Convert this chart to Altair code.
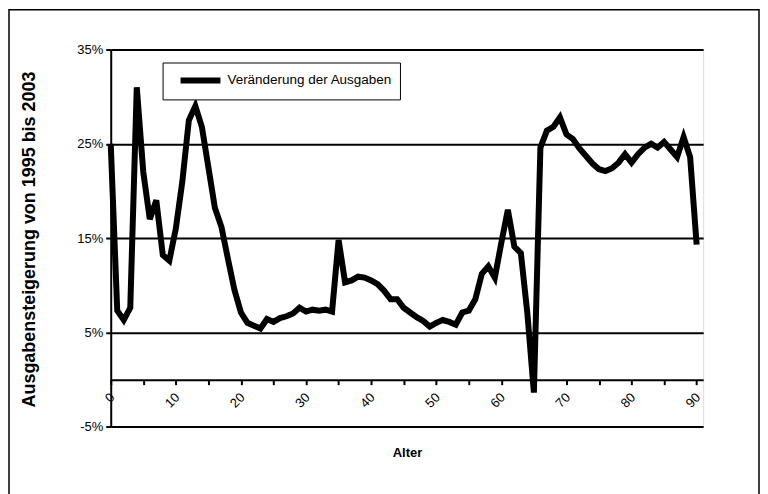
import altair as alt
import pandas as pd

ages = list(range(0, 91))
values = [
    25.0, 7.3, 6.3, 7.6, 31.0, 22.0, 17.0, 19.0, 13.2, 12.6,
    16.0, 21.0, 27.5, 29.0, 26.8, 22.5, 18.2, 16.2, 12.8, 9.5,
    7.1, 6.0, 5.7, 5.4, 6.4, 6.1, 6.5, 6.7, 7.0, 7.6,
    7.2, 7.4, 7.3, 7.4, 7.2, 14.8, 10.3, 10.5, 10.9, 10.8,
    10.5, 10.1, 9.4, 8.5, 8.5, 7.6, 7.1, 6.6, 6.2, 5.6,
    6.0, 6.3, 6.1, 5.8, 7.1, 7.3, 8.5, 11.2, 12.0, 10.8,
    14.5, 18.0, 14.1, 13.4, 7.0, -1.4, 24.6, 26.4, 26.8, 27.8,
    26.0, 25.5, 24.5, 23.7, 22.9, 22.3, 22.1, 22.4, 23.0, 23.9,
    23.0, 23.9, 24.6, 25.0, 24.6, 25.2, 24.4, 23.6, 25.7, 23.6,
    14.3,
]
series = ["Veränderung der Ausgaben"] * len(ages)

y_ticks = [-5, 5, 15, 25, 35]
x_ticks = list(range(0, 91, 5))

df = pd.DataFrame({"Alter": ages, "Wert": values, "Serie": series})

FONT = "Liberation Sans, Arial, sans-serif"

line = alt.Chart(df).mark_line(strokeWidth=6, strokeJoin="miter", strokeCap="butt").encode(
    x=alt.X(
        "Alter:Q",
        scale=alt.Scale(domain=[0, 91], nice=False, zero=False),
        axis=alt.Axis(
            values=x_ticks,
            labelExpr="datum.value % 10 == 0 ? datum.label : ''",
            labelAngle=315,
            offset=-47,
            title="Alter",
            titleFont=FONT,
            titleFontWeight="bold",
            titleFontSize=13,
            titleColor="black",
            titleX=297,
            titleY=73,
            titleBaseline="middle",
            grid=False,
            domainColor="black",
            domainWidth=2,
            tickColor="black",
            tickSize=5,
            tickWidth=2,
            labelFont=FONT,
            labelFontSize=13,
            labelColor="black",
            labelPadding=6,
            labelOffset=-3,
        ),
    ),
    y=alt.Y(
        "Wert:Q",
        scale=alt.Scale(domain=[-5, 35], nice=False, zero=False),
        axis=alt.Axis(
            values=y_ticks,
            labelExpr="datum.value + '%'",
            title="Ausgabensteigerung von 1995 bis 2003",
            titleFont=FONT,
            titleFontWeight="bold",
            titleFontSize=18,
            titleColor="black",
            titleX=-81,
            titleY=190,
            titleAngle=270,
            titleAlign="center",
            titleBaseline="middle",
            grid=True,
            gridColor="black",
            gridWidth=2,
            gridOpacity=1,
            domainColor="black",
            domainWidth=2,
            tickColor="black",
            tickSize=5,
            tickWidth=2,
            labelFont=FONT,
            labelFontSize=13,
            labelColor="black",
            labelPadding=3,
        ),
    ),
    color=alt.Color(
        "Serie:N",
        scale=alt.Scale(range=["black"]),
        legend=alt.Legend(
            title=None,
            orient="none",
            legendX=52,
            legendY=13,
            strokeColor="black",
            fillColor="white",
            padding=7,
            symbolType="M0,0H5",
            symbolSize=256,
            symbolStrokeWidth=6,
            labelOffset=36,
            labelLimit=400,
            labelFont=FONT,
            labelFontSize=13.5,
            labelColor="black",
        ),
    ),
)

frame = alt.Chart(pd.DataFrame({"f": [0]})).mark_rect(
    fill=None, stroke="black", strokeWidth=1.5
).encode(
    x=alt.value(-102), x2=alt.value(650), y=alt.value(-40), y2=alt.value(470)
)

chart = alt.layer(frame, line).properties(
    width=594,
    height=378,
    autosize=alt.AutoSizeParams(type="none"),
    padding={"left": 103, "top": 41, "right": 57, "bottom": 67},
).configure_view(stroke="black", strokeWidth=2).configure(background="white")

chart.save("out.html", embed_options={"renderer": "svg", "actions": False})
